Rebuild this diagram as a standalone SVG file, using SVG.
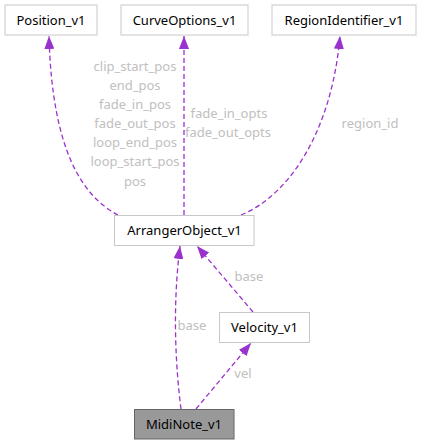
<svg xmlns="http://www.w3.org/2000/svg" width="422" height="444" viewBox="0 0 422 444">
<style>
.box{fill:#fff;stroke:#c8c8c8;stroke-width:1}
.t{font-family:"Noto Sans",sans-serif;font-size:13px;fill:#000;text-anchor:middle}
.lbl{font-family:"Noto Sans",sans-serif;font-size:13px;fill:#c0c0c0;text-anchor:middle}
.e{fill:none;stroke:#9a32cd;stroke-width:1.3;stroke-dasharray:5,3}
</style>
<defs>
<marker id="ah" viewBox="0 0 13 10" refX="13" refY="5" markerWidth="13" markerHeight="10" markerUnits="userSpaceOnUse" orient="auto">
<path d="M0,0 L13,5 L0,10 Z" fill="#9a32cd"/>
</marker>
</defs>
<g id="connectors">
<path class="e" d="M118,215 C82,196 52,150 49,36" marker-end="url(#ah)"/>
<path class="e" d="M184,215 L184,36" marker-end="url(#ah)"/>
<path class="e" d="M241,215 C290,195 332,130 340,36" marker-end="url(#ah)"/>
<path class="e" d="M181,409 C176,370 172,310 180,246" marker-end="url(#ah)"/>
<path class="e" d="M253,312 L197,246" marker-end="url(#ah)"/>
<path class="e" d="M196,409 L251,343" marker-end="url(#ah)"/>
<text class="lbl" x="135" y="71">clip_start_pos</text>
<text class="lbl" x="135" y="90">end_pos</text>
<text class="lbl" x="135" y="109">fade_in_pos</text>
<text class="lbl" x="135" y="128">fade_out_pos</text>
<text class="lbl" x="135" y="147">loop_end_pos</text>
<text class="lbl" x="135" y="166">loop_start_pos</text>
<text class="lbl" x="135" y="186">pos</text>
<text class="lbl" x="229" y="118">fade_in_opts</text>
<text class="lbl" x="228" y="137">fade_out_opts</text>
<text class="lbl" x="370" y="128">region_id</text>
<text class="lbl" x="249" y="281">base</text>
<text class="lbl" x="192" y="330">base</text>
<text class="lbl" x="243" y="378">vel</text>
</g>
<g id="Position_v1"><rect class="box" x="5" y="5" width="92" height="30"/><text class="t" x="51" y="24.5">Position_v1</text></g>
<g id="CurveOptions_v1"><rect class="box" x="121" y="5" width="127" height="30"/><text class="t" x="184.5" y="24.5">CurveOptions_v1</text></g>
<g id="RegionIdentifier_v1"><rect class="box" x="272" y="5" width="144" height="30"/><text class="t" x="344" y="24.5">RegionIdentifier_v1</text></g>
<g id="ArrangerObject_v1"><rect class="box" x="114.5" y="215.5" width="139.5" height="30"/><text class="t" x="184.5" y="235">ArrangerObject_v1</text></g>
<g id="Velocity_v1"><rect class="box" x="219.5" y="312.5" width="90" height="30"/><text class="t" x="264.5" y="332">Velocity_v1</text></g>
<g id="MidiNote_v1"><rect x="134.5" y="409.5" width="99.5" height="29.5" fill="#999" stroke="#666"/><text class="t" x="184" y="429">MidiNote_v1</text></g>
</svg>
